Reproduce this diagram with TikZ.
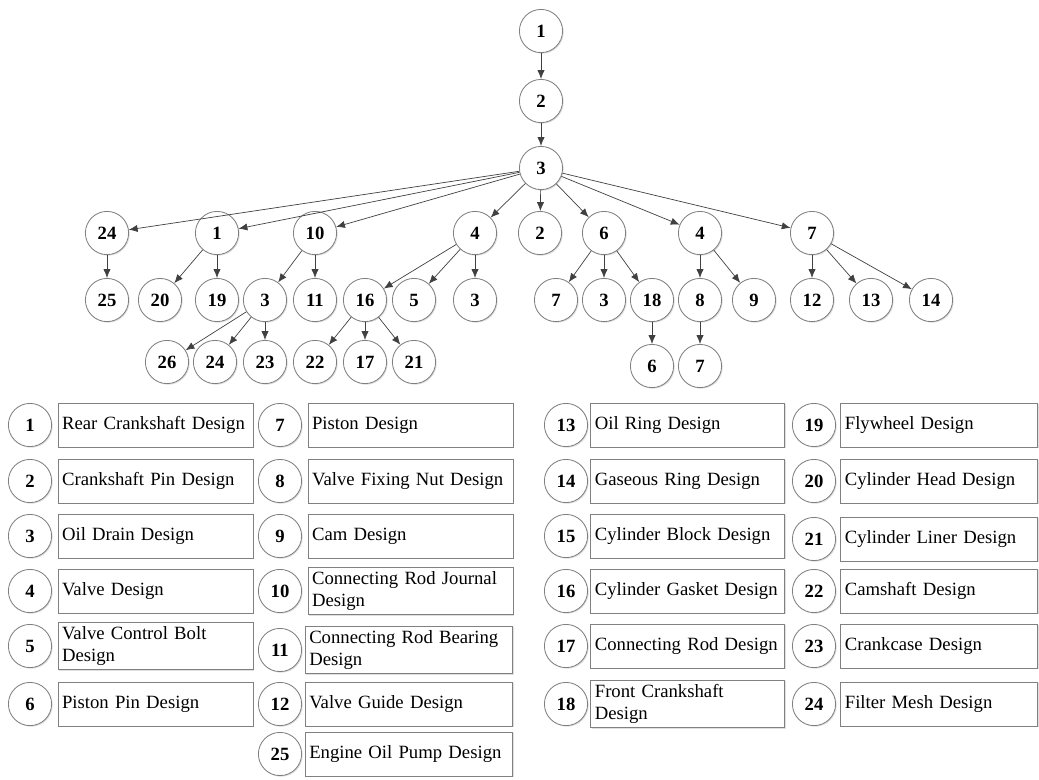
\documentclass[tikz,border=0pt]{standalone}
\usepackage{fontspec}
\setmainfont{Liberation Serif}
\usetikzlibrary{positioning,arrows.meta,shadows}

\tikzset{
  tnode/.style={circle, draw=black!50, fill=white, line width=0.6pt, minimum size=1.08cm, inner sep=0pt,
    font=\fontsize{13.3}{16}\selectfont\bfseries,
    drop shadow={shadow xshift=0.8pt, shadow yshift=-0.8pt, opacity=0.25}},
  legbox/.style={rectangle, draw=black!50, fill=white, line width=0.6pt, minimum height=1.1cm, inner sep=0.1cm,
    align=left, anchor=west, font=\fontsize{13.3}{16}\selectfont,
    drop shadow={shadow xshift=0.8pt, shadow yshift=-0.8pt, opacity=0.25}},
  link/.style={-{Latex[length=2.2mm,width=1.8mm]}, draw=black!75, line width=0.5pt}
}

\begin{document}
\begin{tikzpicture}[x=0.025cm, y=-0.025cm]
\useasboundingbox (0,0) rectangle (1039,779);

% tree
\node[tnode] (n1) at (541,31) {1};
\node[tnode] (n2) at (541,101) {2};
\node[tnode] (n3) at (541,168) {3};

\node[tnode] (a24) at (107,233) {24};
\node[tnode] (a1) at (217,233) {1};
\node[tnode] (a10) at (315,233) {10};
\node[tnode] (a4) at (475,233) {4};
\node[tnode] (a2) at (540,233) {2};
\node[tnode] (a6) at (604,233) {6};
\node[tnode] (a4b) at (700,233) {4};
\node[tnode] (a7) at (812,233) {7};

\node[tnode] (b25) at (107,300) {25};
\node[tnode] (b20) at (160,300) {20};
\node[tnode] (b19) at (217,300) {19};
\node[tnode] (b3) at (265,300) {3};
\node[tnode] (b11) at (315,300) {11};
\node[tnode] (b16) at (365,300) {16};
\node[tnode] (b5) at (414,300) {5};
\node[tnode] (b3r) at (475,300) {3};
\node[tnode] (b7) at (556,300) {7};
\node[tnode] (b3m) at (604,300) {3};
\node[tnode] (b18) at (652,300) {18};
\node[tnode] (b8) at (700,300) {8};
\node[tnode] (b9) at (754,300) {9};
\node[tnode] (b12) at (812,300) {12};
\node[tnode] (b13) at (871,300) {13};
\node[tnode] (b14) at (931,300) {14};

\node[tnode] (c26) at (167,362) {26};
\node[tnode] (c24) at (215,362) {24};
\node[tnode] (c23) at (265,362) {23};
\node[tnode] (c22) at (315,362) {22};
\node[tnode] (c17) at (365,362) {17};
\node[tnode] (c21) at (414,362) {21};
\node[tnode] (c6) at (652,366) {6};
\node[tnode] (c7) at (700,366) {7};

\draw[link] (n1) -- (n2);
\draw[link] (n2) -- (n3);
\draw[link] (n3) -- (a24);
\draw[link] (n3) -- (a1);
\draw[link] (n3) -- (a10);
\draw[link] (n3) -- (a4);
\draw[link] (n3) -- (a2);
\draw[link] (n3) -- (a6);
\draw[link] (n3) -- (a4b);
\draw[link] (n3) -- (a7);
\draw[link] (a24) -- (b25);
\draw[link] (a1) -- (b20);
\draw[link] (a1) -- (b19);
\draw[link] (a10) -- (b3);
\draw[link] (a10) -- (b11);
\draw[link] (a4) -- (b16);
\draw[link] (a4) -- (b5);
\draw[link] (a4) -- (b3r);
\draw[link] (a6) -- (b7);
\draw[link] (a6) -- (b3m);
\draw[link] (a6) -- (b18);
\draw[link] (a4b) -- (b8);
\draw[link] (a4b) -- (b9);
\draw[link] (a7) -- (b12);
\draw[link] (a7) -- (b13);
\draw[link] (a7) -- (b14);
\draw[link] (b3) -- (c26);
\draw[link] (b3) -- (c24);
\draw[link] (b3) -- (c23);
\draw[link] (b16) -- (c22);
\draw[link] (b16) -- (c17);
\draw[link] (b16) -- (c21);
\draw[link] (b18) -- (c6);
\draw[link] (b8) -- (c7);

% legend, first column
\node[tnode] (k1) at (30,425) {1};
\node[legbox, text width=4.675cm, right=0.14cm of k1] (t1) {Rear Crankshaft Design};
\node[tnode] (k2) at (30,481) {2};
\node[legbox, text width=4.675cm, right=0.14cm of k2] (t2) {Crankshaft Pin Design};
\node[tnode] (k3) at (30,536) {3};
\node[legbox, text width=4.675cm, right=0.14cm of k3] (t3) {Oil Drain Design};
\node[tnode] (k4) at (30,591) {4};
\node[legbox, text width=4.675cm, right=0.14cm of k4] (t4) {Valve Design};
\node[tnode] (k5) at (30,646) {5};
\node[legbox, text width=4.675cm, right=0.14cm of k5] (t5) {Valve Control Bolt\\Design};
\node[tnode] (k6) at (30,704) {6};
\node[legbox, text width=4.675cm, right=0.14cm of k6] (t6) {Piston Pin Design};

% legend, second column
\node[tnode] (k7) at (280,425) {7};
\node[legbox, text width=4.925cm, right=0.14cm of k7] (t7) {Piston Design};
\node[tnode] (k8) at (280,481) {8};
\node[legbox, text width=4.925cm, right=0.14cm of k8] (t8) {Valve Fixing Nut Design};
\node[tnode] (k9) at (280,536) {9};
\node[legbox, text width=4.925cm, right=0.14cm of k9] (t9) {Cam Design};
\node[tnode] (k10) at (280,591) {10};
\node[legbox, text width=4.925cm, right=0.14cm of k10] (t10) {Connecting Rod Journal\\Design};
\node[tnode] (k11) at (280,650) {11};
\node[legbox, text width=4.99cm, right=0.07cm of k11] (t11) {Connecting Rod Bearing\\Design};
\node[tnode] (k12) at (280,704) {12};
\node[legbox, text width=4.99cm, right=0.07cm of k12] (t12) {Valve Guide Design};
\node[tnode] (k25) at (280,754) {25};
\node[legbox, text width=4.99cm, right=0.07cm of k25] (t25) {Engine Oil Pump Design};

% legend, third column
\node[tnode] (k13) at (566,425) {13};
\node[legbox, text width=4.65cm, right=0.06cm of k13] (t13) {Oil Ring Design};
\node[tnode] (k14) at (566,481) {14};
\node[legbox, text width=4.65cm, right=0.06cm of k14] (t14) {Gaseous Ring Design};
\node[tnode] (k15) at (566,536) {15};
\node[legbox, text width=4.65cm, right=0.06cm of k15] (t15) {Cylinder Block Design};
\node[tnode] (k16) at (566,591) {16};
\node[legbox, text width=4.65cm, right=0.06cm of k16] (t16) {Cylinder Gasket Design};
\node[tnode] (k17) at (566,646) {17};
\node[legbox, text width=4.65cm, right=0.06cm of k17] (t17) {Connecting Rod Design};
\node[tnode] (k18) at (566,704) {18};
\node[legbox, text width=4.65cm, right=0.06cm of k18] (t18) {Front Crankshaft\\Design};

% legend, fourth column
\node[tnode] (k19) at (814,425) {19};
\node[legbox, text width=4.725cm, right=0.11cm of k19] (t19) {Flywheel Design};
\node[tnode] (k20) at (814,481) {20};
\node[legbox, text width=4.725cm, right=0.11cm of k20] (t20) {Cylinder Head Design};
\node[tnode] (k21) at (814,539) {21};
\node[legbox, text width=4.725cm, right=0.11cm of k21] (t21) {Cylinder Liner Design};
\node[tnode] (k22) at (814,591) {22};
\node[legbox, text width=4.725cm, right=0.11cm of k22] (t22) {Camshaft Design};
\node[tnode] (k23) at (814,646) {23};
\node[legbox, text width=4.725cm, right=0.11cm of k23] (t23) {Crankcase Design};
\node[tnode] (k24) at (814,704) {24};
\node[legbox, text width=4.725cm, right=0.11cm of k24] (t24) {Filter Mesh Design};
\end{tikzpicture}
\end{document}
